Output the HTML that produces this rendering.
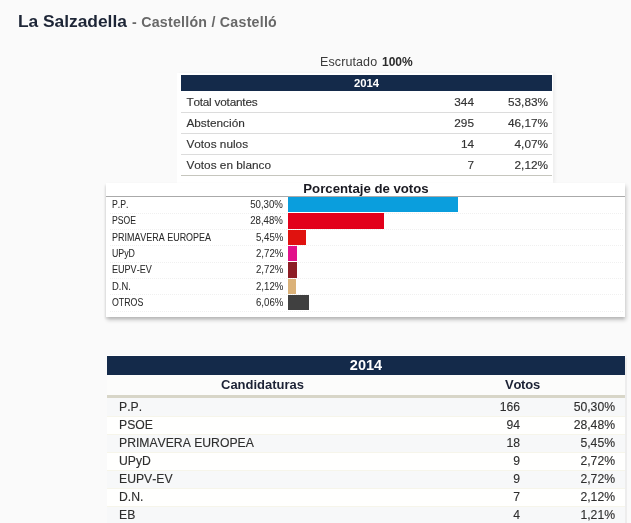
<!DOCTYPE html>
<html><head><meta charset="utf-8">
<style>
*{margin:0;padding:0;box-sizing:border-box}
html,body{font-kerning:none;width:631px;height:523px;overflow:hidden;background:#fafafa;font-family:"Liberation Sans",sans-serif;color:#333}
.a{position:absolute;white-space:nowrap;line-height:1;will-change:transform}
#title{left:18px;top:13.4px;font-size:17.4px;letter-spacing:-.03px;font-weight:bold;color:#1d2536}
#sub{left:131.9px;top:15px;font-size:14.2px;font-weight:bold;color:#686868;letter-spacing:.25px}
#escr{left:320px;top:55.6px;font-size:12.5px;color:#3a3a3a;letter-spacing:.1px}
#escr2{left:381.6px;top:56px;font-size:12px;font-weight:bold;color:#2a2a2a}
/* top table */
#wrap1{left:177px;top:73px;width:376px;height:110px;background:#fff;box-shadow:2px 0 3px rgba(0,0,0,.05)}
#t1{left:181px;top:75px;width:371px;height:100px;background:#fff}
#t1 .ln{position:absolute;left:0;width:371px;height:1px;background:#dcdcdc}
#t1 .hd{position:absolute;left:0;top:0;width:371px;height:16px;background:#142a4a;color:#fff;font-weight:bold;font-size:11.3px;text-align:center;line-height:17px}
#t1 .r{position:absolute;left:0;width:371px;height:21px;font-size:11.8px;color:#333;-webkit-text-stroke:.15px #333}
#t1 .r span{position:absolute;top:5px;line-height:12px}
#t1 .r .l{left:5.4px}
#t1 .r .n{right:78px;text-align:right}
#t1 .r .p{right:4px;text-align:right}
/* chart */
#ch{left:106px;top:183px;width:519px;height:134px;background:#fff;box-shadow:1px 3px 4px rgba(0,0,0,.22),-1px 2px 2px rgba(0,0,0,.08)}
#ch .tt{position:absolute;left:0;top:-0.7px;width:520px;text-align:center;font-weight:bold;font-size:13.2px;color:#1a1a22;line-height:13px}
#ch .hl{position:absolute;left:0;top:13px;width:519px;height:1px;background:#aaa}
#ch .row{position:absolute;left:0;width:519px;height:16.33px}
#ch .row .lb{position:absolute;left:5.6px;top:3.1px;font-size:10px;transform-origin:0 0;transform:scaleX(.89);color:#282828;-webkit-text-stroke:.05px #282828;line-height:10px}
#ch .row .pc{position:absolute;right:341.8px;top:2.9px;font-size:10px;transform-origin:100% 0;transform:scaleX(.965);color:#2e2e2e;-webkit-text-stroke:.05px #2e2e2e;line-height:10px}
#ch .row .bar{position:absolute;left:182px;top:0;height:15.3px}
#ch .row .dl{position:absolute;left:4px;right:2px;top:15.8px;height:0;border-top:1px dotted #f0f0f0}
/* bottom table */
#t2{left:107px;top:355px;width:518px;height:170px;background:#fff;box-shadow:1.5px 0 1px rgba(0,0,0,.05)}
#t2 .hd{position:absolute;left:0;top:0.8px;width:518px;height:19.2px;background:#142a4a;color:#fff;font-weight:bold;font-size:14.5px;text-align:center;line-height:18.6px}
#t2 .sh{position:absolute;left:0;top:20px;width:518px;height:20px;background:#fcfcfb;font-weight:bold;font-size:13px;color:#1c2235}
#t2 .sh span{position:absolute;top:3px;line-height:13px}
#t2 .bl{position:absolute;left:0;top:40px;width:518px;height:3px;background:#d8d6c8}
#t2 .r{position:absolute;left:0;width:518px;height:18px;font-size:12.2px;color:#2e2e2e;-webkit-text-stroke:.12px #2e2e2e;background:#fffffe}
#t2 .r.o{background:#f7f8f9}
#t2 .r+.r{box-shadow:inset 0 1px 0 #f6f5ea}
#t2 .r span{position:absolute;top:3px;line-height:12px}
#t2 .r .l{left:12px}
#t2 .r .n{right:105px}
#t2 .r .p{right:10px}
</style></head><body>
<div class="a" id="title">La Salzadella</div><div class="a" id="sub">- Castellón / Castelló</div>
<div class="a" id="escr">Escrutado</div><div class="a" id="escr2">100%</div>

<div class="a" id="wrap1"></div>
<div class="a" id="t1">
 <div class="hd">2014</div>
 <div class="ln" style="top:37px"></div><div class="ln" style="top:58px"></div><div class="ln" style="top:79px"></div><div class="ln" style="top:99.5px;height:0;background:none;border-top:1px solid #c6c6be"></div>
 <div class="r" style="top:16px"><span class="l" style="letter-spacing:-.22px">Total votantes</span><span class="n">344</span><span class="p">53,83%</span></div>
 <div class="r" style="top:37px"><span class="l">Abstención</span><span class="n">295</span><span class="p">46,17%</span></div>
 <div class="r" style="top:58px"><span class="l">Votos nulos</span><span class="n">14</span><span class="p">4,07%</span></div>
 <div class="r" style="top:79px"><span class="l">Votos en blanco</span><span class="n">7</span><span class="p">2,12%</span></div>
</div>

<div class="a" id="ch">
 <div class="tt">Porcentaje de votos</div>
 <div class="hl"></div>
 <div class="row" style="top:14px"><span class="lb" style="transform:scaleX(0.87)">P.P.</span><span class="pc">50,30%</span><div class="dl"></div><div class="bar" style="width:170px;background:#0a9edd"></div></div>
 <div class="row" style="top:30.33px"><span class="lb" style="transform:scaleX(0.86)">PSOE</span><span class="pc">28,48%</span><div class="dl"></div><div class="bar" style="width:96px;background:#e2001a"></div></div>
 <div class="row" style="top:46.66px"><span class="lb" style="transform:scaleX(0.895)">PRIMAVERA EUROPEA</span><span class="pc">5,45%</span><div class="dl"></div><div class="bar" style="width:18px;background:#e0120f"></div></div>
 <div class="row" style="top:63px"><span class="lb" style="transform:scaleX(0.88)">UPyD</span><span class="pc">2,72%</span><div class="dl"></div><div class="bar" style="width:9px;background:#e2118a"></div></div>
 <div class="row" style="top:79.33px"><span class="lb" style="transform:scaleX(0.905)">EUPV-EV</span><span class="pc">2,72%</span><div class="dl"></div><div class="bar" style="width:9px;background:#8d1d25"></div></div>
 <div class="row" style="top:95.66px"><span class="lb" style="transform:scaleX(0.94)">D.N.</span><span class="pc">2,12%</span><div class="dl"></div><div class="bar" style="width:8px;background:#dbb279"></div></div>
 <div class="row" style="top:112px"><span class="lb" style="transform:scaleX(0.88)">OTROS</span><span class="pc">6,06%</span><div class="dl"></div><div class="bar" style="width:21px;background:#404040"></div></div>
</div>

<div class="a" id="t2">
 <div class="hd">2014</div>
 <div class="sh"><span style="left:114px">Candidaturas</span><span style="left:398px;letter-spacing:-.25px">Votos</span></div>
 <div class="bl"></div>
 <div class="r o" style="top:43px"><span class="l">P.P.</span><span class="n">166</span><span class="p">50,30%</span></div>
 <div class="r" style="top:61px"><span class="l">PSOE</span><span class="n">94</span><span class="p">28,48%</span></div>
 <div class="r o" style="top:79px"><span class="l">PRIMAVERA EUROPEA</span><span class="n">18</span><span class="p">5,45%</span></div>
 <div class="r" style="top:97px"><span class="l">UPyD</span><span class="n">9</span><span class="p">2,72%</span></div>
 <div class="r o" style="top:115px"><span class="l">EUPV-EV</span><span class="n">9</span><span class="p">2,72%</span></div>
 <div class="r" style="top:133px"><span class="l">D.N.</span><span class="n">7</span><span class="p">2,12%</span></div>
 <div class="r o" style="top:151px"><span class="l">EB</span><span class="n">4</span><span class="p">1,21%</span></div>
</div>
</body></html>
